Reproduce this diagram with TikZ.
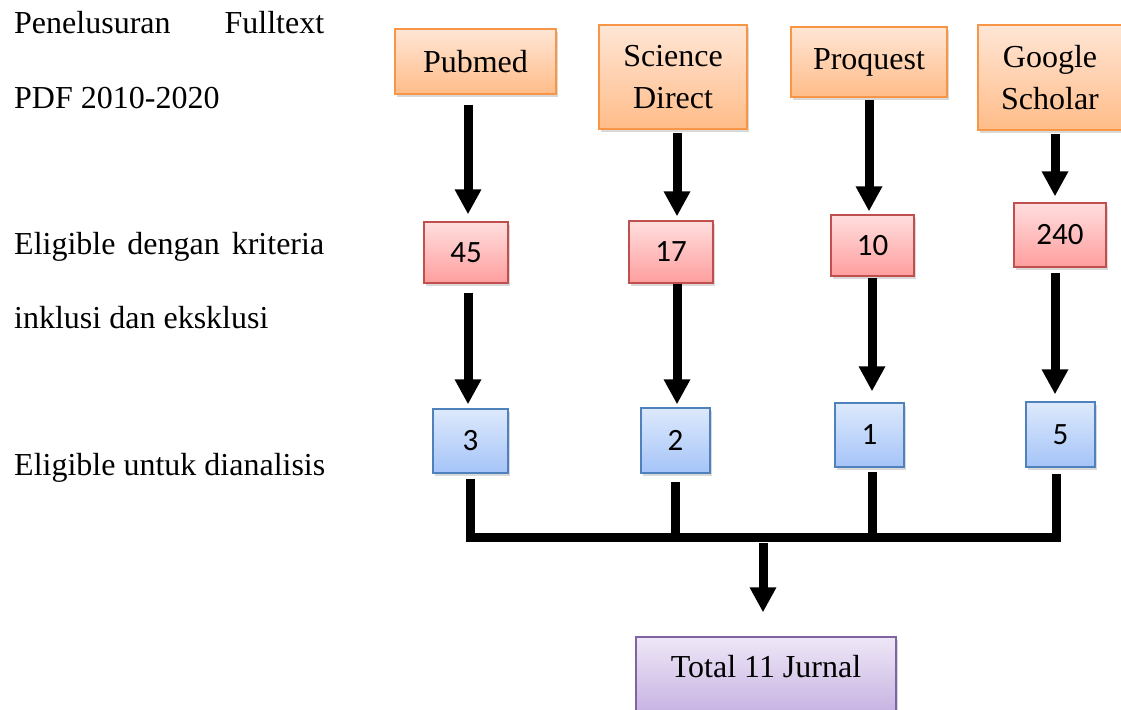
\documentclass[tikz,border=0pt]{standalone}
\usepackage{fontspec}
\setmainfont{Liberation Serif}
\newfontfamily\numfont{Carlito}
\usetikzlibrary{arrows.meta,shadows,calc}
\definecolor{orB}{HTML}{F79646}
\definecolor{orT}{HTML}{FFE6D6}
\definecolor{orD}{HTML}{FFBC88}
\definecolor{rdB}{HTML}{C0504D}
\definecolor{rdT}{HTML}{FFDEDE}
\definecolor{rdD}{HTML}{FF9E9E}
\definecolor{blB}{HTML}{4F81BD}
\definecolor{blT}{HTML}{DDE9FC}
\definecolor{blD}{HTML}{A5C4F8}
\definecolor{puB}{HTML}{8064A2}
\definecolor{puT}{HTML}{EEE7F6}
\definecolor{puD}{HTML}{C7B2E2}
\tikzset{
  box/.style={line width=1.3pt, inner sep=0pt, align=center,
    drop shadow={shadow xshift=1.5pt, shadow yshift=-3pt, opacity=0.3}},
  src/.style={box, draw=orB, top color=orT, bottom color=orD},
  cnt/.style={box, draw=rdB, top color=rdT, bottom color=rdD, font=\numfont\fontsize{31}{37}\selectfont},
  fin/.style={box, draw=blB, top color=blT, bottom color=blD, font=\numfont\fontsize{31}{37}\selectfont},
  tot/.style={box, draw=puB, top color=puT, bottom color=puD},
  lbl/.style={anchor=base west, inner sep=0pt},
  arr/.style={line width=9pt, -{Triangle[width=25pt,length=25pt]}},
  bus/.style={line width=9pt, line join=miter}
}
\begin{document}
\begin{tikzpicture}[x=1pt,y=-1pt, font=\fontsize{32}{42}\selectfont]
\useasboundingbox (0,0) rectangle (1121,709);
% left labels
\node[lbl] (t1) at (14,34) {\makebox[310pt][s]{Penelusuran Fulltext}};
\node[lbl] (t2) at (14,108) {PDF 2010-2020};
\node[lbl] (t3) at (14,254) {\makebox[310pt][s]{Eligible dengan kriteria}};
\node[lbl] (t4) at (14,328) {inklusi dan eksklusi};
\node[lbl] (t5) at (14,475) {Eligible untuk dianalisis};
% sources
\node[src, minimum width=161pt, minimum height=65pt] (pub) at (475.5,61.5) {Pubmed};
\node[src, minimum width=148pt, minimum height=104pt] (sd) at (673,77) {Science\\Direct};
\node[src, minimum width=156pt, minimum height=70pt] (pq) at (869,62) {Proquest};
\node[src, minimum width=144pt, minimum height=105pt] (gs) at (1050,77.5) {Google\\Scholar};
% eligible counts
\node[cnt, minimum width=84pt, minimum height=61pt] (r45) at (466,252.5) {45};
\node[cnt, minimum width=84pt, minimum height=62pt] (r17) at (671,252) {17};
\node[cnt, minimum width=83pt, minimum height=61pt] (r10) at (872.5,245.5) {10};
\node[cnt, minimum width=92pt, minimum height=64pt] (r240) at (1060,235) {240};
% analysed
\node[fin, minimum width=75pt, minimum height=64pt] (b3) at (470.5,441) {3};
\node[fin, minimum width=69pt, minimum height=65pt] (b2) at (675.5,440.5) {2};
\node[fin, minimum width=69pt, minimum height=64pt] (b1) at (869.5,435) {1};
\node[fin, minimum width=69pt, minimum height=65pt] (b5) at (1060.5,434.5) {5};
% total
\node[tot, minimum width=260pt, minimum height=76pt, text height=20pt, text depth=16pt] (tot) at (766,675) {Total 11 Jurnal};
% arrows column 1
\draw[arr] ([xshift=-7.5pt,yshift=-10pt]pub.south) -- ([xshift=2pt,yshift=7pt]r45.north);
\draw[arr] ([xshift=2pt,yshift=-9pt]r45.south) -- ([xshift=-2.5pt,yshift=4pt]b3.north);
% column 2
\draw[arr] ([xshift=4pt,yshift=-3pt]sd.south) -- ([xshift=6pt,yshift=4pt]r17.north);
\draw[arr] ([xshift=6pt,yshift=0pt]r17.south) -- ([xshift=1.5pt,yshift=3pt]b2.north);
% column 3
\draw[arr] ([yshift=-2pt]pq.south) -- ([xshift=-3.5pt,yshift=3pt]r10.north);
\draw[arr] ([xshift=-0.5pt,yshift=-1pt]r10.south) -- ([xshift=2.5pt,yshift=11pt]b1.north);
% column 4
\draw[arr] ([xshift=5pt,yshift=-3pt]gs.south) -- ([xshift=-5pt,yshift=6pt]r240.north);
\draw[arr] ([xshift=-5pt,yshift=-5pt]r240.south) -- ([xshift=-5.5pt,yshift=7pt]b5.north);
% bus
\coordinate (busL) at (470,537);
\coordinate (busR) at (1056,537);
\coordinate (busC) at (763,537);
\draw[bus] ([xshift=-0.5pt,yshift=-5pt]b3.south) -- (busL) -- (busR) -- ([xshift=-4.5pt,yshift=-6pt]b5.south);
\draw[bus] ([xshift=-0.5pt,yshift=-8pt]b2.south) -- ([xshift=-0.5pt]b2.south |- busL);
\draw[bus] ([xshift=2.5pt,yshift=-4pt]b1.south) -- ([xshift=2.5pt]b1.south |- busL);
\draw[arr] ([yshift=-6pt]busC) -- ([xshift=-3pt,yshift=24pt]tot.north);
\end{tikzpicture}
\end{document}
